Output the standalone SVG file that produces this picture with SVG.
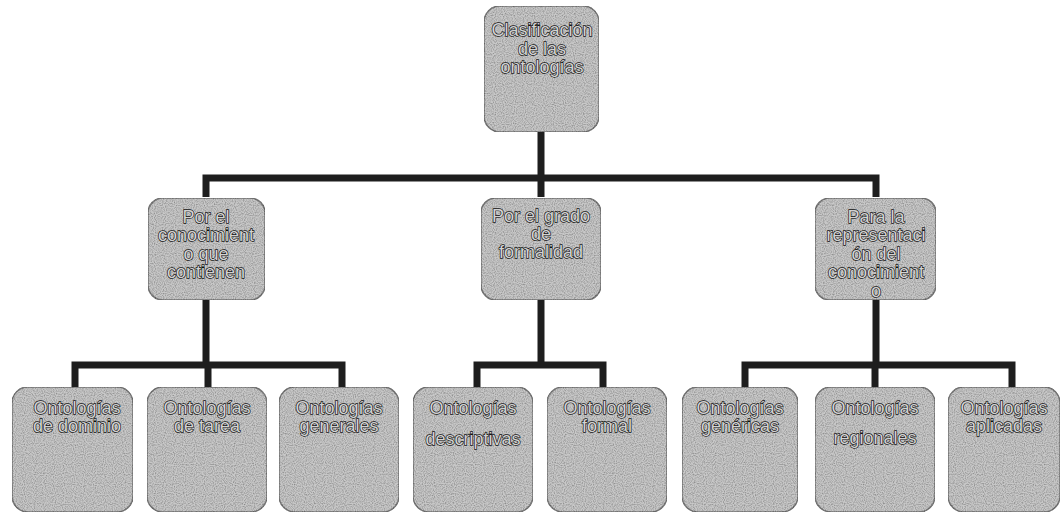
<svg xmlns="http://www.w3.org/2000/svg" width="1062" height="515" viewBox="0 0 1062 515">
  <defs>
    <!-- speckled grey fill for the boxes -->
    <filter id="grain" x="0" y="0" width="100%" height="100%">
      <feTurbulence type="fractalNoise" baseFrequency="0.9" numOctaves="1" seed="3" result="n"/>
      <feColorMatrix in="n" type="matrix" values="0 0 0 0 0  0 0 0 0 0  0 0 0 0 0  0 0 0 -1.2 0.75" result="dots"/>
      <feComposite in="dots" in2="SourceGraphic" operator="in" result="d"/>
      <feMerge><feMergeNode in="SourceGraphic"/><feMergeNode in="d"/></feMerge>
    </filter>
  </defs>
  <style>
    .box { fill: #c8c8c8; stroke: #7a7a7a; stroke-width: 1.5; filter: url(#grain); }
    .lbl { font-family: "Liberation Sans", Arial, sans-serif; font-size: 18px; text-anchor: middle; fill: #d2d2d2; stroke: #111; stroke-width: 1.3; paint-order: stroke; }
    .conn { fill: none; stroke: #1e1e1e; stroke-width: 7; stroke-linejoin: miter; }
  </style>
  <rect width="1062" height="515" fill="#ffffff"/>

  <g id="connectors">
    <path class="conn" d="M541 130 V178 M206 197 V178 H876 V197 M541 178 V197"/>
    <path class="conn" d="M206 300 V365 M75 387 V365 H342 V387 M208 365 V387"/>
    <path class="conn" d="M541 300 V365 M477 387 V365 H603 V387"/>
    <path class="conn" d="M876 300 V365 M745 387 V365 H1012 V387 M875 365 V387"/>
  </g>

  <g id="root">
    <rect class="box" x="484" y="6" width="115" height="126" rx="16"/>
    <text class="lbl" x="542" y="36">Clasificación</text>
    <text class="lbl" x="542" y="55">de las</text>
    <text class="lbl" x="542" y="73">ontologías</text>
  </g>

  <g id="conocimiento">
    <rect class="box" x="148" y="198" width="117" height="102" rx="15"/>
    <text class="lbl" x="206" y="223">Por el</text>
    <text class="lbl" x="206" y="241">conocimient</text>
    <text class="lbl" x="206" y="260">o que</text>
    <text class="lbl" x="206" y="278">contienen</text>
  </g>

  <g id="formalidad">
    <rect class="box" x="481" y="198" width="120" height="102" rx="15"/>
    <text class="lbl" x="541" y="222">Por el grado</text>
    <text class="lbl" x="541" y="240">de</text>
    <text class="lbl" x="541" y="258">formalidad</text>
  </g>

  <g id="representacion">
    <rect class="box" x="815" y="198" width="121" height="102" rx="15"/>
    <text class="lbl" x="876" y="223">Para la</text>
    <text class="lbl" x="876" y="241">representaci</text>
    <text class="lbl" x="876" y="260">ón del</text>
    <text class="lbl" x="876" y="278">conocimient</text>
    <text class="lbl" x="876" y="297">o</text>
  </g>

  <g id="dominio">
    <rect class="box" x="12" y="387" width="121" height="125" rx="16"/>
    <text class="lbl" x="77" y="414">Ontologías</text>
    <text class="lbl" x="77" y="432">de dominio</text>
  </g>

  <g id="tarea">
    <rect class="box" x="147" y="387" width="120" height="125" rx="16"/>
    <text class="lbl" x="207" y="414">Ontologías</text>
    <text class="lbl" x="207" y="432">de tarea</text>
  </g>

  <g id="generales">
    <rect class="box" x="279" y="387" width="120" height="125" rx="16"/>
    <text class="lbl" x="339" y="414">Ontologías</text>
    <text class="lbl" x="339" y="432">generales</text>
  </g>

  <g id="descriptivas">
    <rect class="box" x="413" y="387" width="120" height="125" rx="16"/>
    <text class="lbl" x="473" y="414">Ontologías</text>
    <text class="lbl" x="473" y="445">descriptivas</text>
  </g>

  <g id="formal">
    <rect class="box" x="547" y="387" width="120" height="125" rx="16"/>
    <text class="lbl" x="607" y="414">Ontologías</text>
    <text class="lbl" x="607" y="432">formal</text>
  </g>

  <g id="genericas">
    <rect class="box" x="682" y="387" width="116" height="125" rx="16"/>
    <text class="lbl" x="740" y="414">Ontologías</text>
    <text class="lbl" x="740" y="432">genéricas</text>
  </g>

  <g id="regionales">
    <rect class="box" x="815" y="387" width="120" height="125" rx="16"/>
    <text class="lbl" x="875" y="414">Ontologías</text>
    <text class="lbl" x="875" y="444">regionales</text>
  </g>

  <g id="aplicadas">
    <rect class="box" x="948" y="387" width="112" height="125" rx="16"/>
    <text class="lbl" x="1004" y="414">Ontologías</text>
    <text class="lbl" x="1004" y="432">aplicadas</text>
  </g>
</svg>
